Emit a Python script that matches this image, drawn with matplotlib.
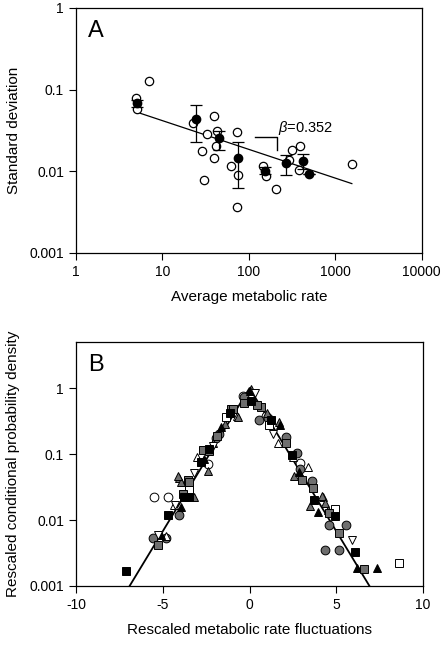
import numpy as np
import matplotlib
matplotlib.use("Agg")
import matplotlib.pyplot as plt

plt.rcParams['font.family'] = ['Liberation Sans', 'DejaVu Sans']
plt.rcParams['mathtext.fontset'] = 'custom'
plt.rcParams['mathtext.it'] = 'Liberation Sans:italic'
plt.rcParams['mathtext.rm'] = 'Liberation Sans'

# ---------------- Panel A data ----------------
open_x = [5.0, 5.1, 7.0, 22.3, 32.4, 39.4, 43, 41.5, 28.9, 39.4, 30.4, 72.1, 61.4, 75.3, 73.2,
          146, 156, 204, 317, 389, 382, 288, 1552]
open_y = [0.078, 0.058, 0.128, 0.039, 0.029, 0.048, 0.0316, 0.0204, 0.0175, 0.0145, 0.0078,
          0.0307, 0.0115, 0.0089, 0.0037, 0.0116, 0.0088, 0.0061, 0.0182, 0.0204, 0.0103, 0.0139, 0.0124]

mean_x = [5.1, 24.4, 45.4, 74, 152, 268, 425, 494]
mean_y = [0.068, 0.0443, 0.0255, 0.0147, 0.0101, 0.0126, 0.0134, 0.0092]
err_lo = [0.062, 0.0226, 0.0185, 0.0062, 0.0092, 0.0091, 0.0108, 0.0092]
err_hi = [0.075, 0.065, 0.0316, 0.0228, 0.0113, 0.0157, 0.0164, 0.0092]

fit_x = [5.1, 1552]
beta = 0.352
fit_a = 0.0939

A_xticks = [1, 10, 100, 1000, 10000]
A_xticklabels = ['1', '10', '100', '1000', '10000']
A_yticks = [0.001, 0.01, 0.1, 1]
A_yticklabels = ['0.001', '0.01', '0.1', '1']

# ---------------- Panel B data (x, log10 y) ----------------
oc = [(-5.48, -1.65), (-4.71, -1.65), (-2.40, -1.15), (2.88, -1.14), (-0.35, -0.12), (0.95, -0.42)]
gc = [(-5.58, -2.28), (-4.81, -2.28), (-4.04, -1.92), (-1.92, -0.76), (-1.77, -0.70), (-0.29, -0.13),
      (0.54, -0.48), (2.08, -0.74), (2.73, -0.99), (3.6, -1.41), (4.58, -2.08), (5.54, -2.07),
      (4.37, -2.46), (5.13, -2.46), (1.05, -0.45), (2.9, -1.22)]
ot = [(-4.81, -2.25), (-4.33, -1.77), (-3.04, -1.04), (1.63, -0.83), (3.37, -1.19), (4.23, -1.65),
      (-0.7, -0.42), (2.5, -1.05)]
gt = [(-4.04, -1.37), (-3.94, -1.42), (-4.1, -1.34), (-3.17, -1.65), (-2.37, -1.25), (-2.12, -0.84),
      (-0.67, -0.44), (0.1, -0.02), (1.7, -0.52), (2.56, -1.34), (4.19, -1.64), (3.5, -1.79),
      (4.33, -1.74), (4.52, -1.85), (-1.4, -0.55), (1.0, -0.38)]
bt = [(-5.1, -2.23), (-3.94, -1.80), (-1.63, -0.59), (1.73, -0.56), (2.85, -1.27), (3.94, -1.88),
      (6.21, -2.73), (7.37, -2.72), (-2.6, -1.08), (0.0, -0.05)]
dt = [(-5.29, -2.23), (-4.27, -1.77), (-3.17, -1.28), (0.29, -0.08), (1.35, -0.69), (5.9, -2.30),
      (-2.1, -0.88), (-3.6, -1.48)]
osq = [(-1.35, -0.44), (4.9, -1.84), (8.6, -2.65), (1.15, -0.56), (-3.5, -1.55)]
gs = [(-5.29, -2.38), (-3.85, -1.6), (-3.56, -1.39), (-3.46, -1.42), (-2.69, -0.94), (-2.31, -0.96),
      (-1.06, -0.31), (-0.96, -0.31), (-0.29, -0.23), (0.67, -0.28), (2.12, -0.84), (3.04, -1.39),
      (3.65, -1.52), (5.13, -2.19), (6.6, -2.75), (4.6, -1.9), (-1.9, -0.72), (0.45, -0.25)]
bs = [(-7.12, -2.78), (-4.67, -1.93), (-3.75, -1.65), (-3.46, -1.65), (-2.79, -1.12), (-2.31, -0.93),
      (-1.15, -0.38), (0.1, -0.19), (1.25, -0.48), (2.46, -1.02), (3.69, -1.70), (4.9, -1.94),
      (6.06, -2.48)]

B_xticks = [-10, -5, 0, 5, 10]
B_yticks = [0.001, 0.01, 0.1, 1]
B_yticklabels = ['0.001', '0.01', '0.1', '1']

GREY = '#6e6e6e'

fig = plt.figure(figsize=(4.44, 6.5), dpi=100)

def style(ax):
    ax.tick_params(direction='out', length=5, width=0.8, labelsize=10, top=False, right=False)
    ax.tick_params(which='minor', left=False, bottom=False, top=False, right=False)
    for s in ax.spines.values():
        s.set_linewidth(0.9)

# ---------------- Panel A ----------------
axA = fig.add_axes([0.171, 0.6108, 0.779, 0.3769])
axA.set_xscale('log')
axA.set_yscale('log')
axA.set_xlim(1, 10000)
axA.set_ylim(0.001, 1)

fx = np.array(fit_x)
axA.plot(fx, fit_a * fx ** (-beta), color='black', lw=0.9, zorder=2)

axA.plot(open_x, open_y, 'o', ms=6, mfc='white', mec='black', mew=0.9, zorder=3)
my = np.array(mean_y)
yerr = np.vstack([my - np.array(err_lo), np.array(err_hi) - my])
axA.errorbar(mean_x, mean_y, yerr=yerr, fmt='o', ms=6, mfc='black', mec='black',
             ecolor='black', elinewidth=0.9, capsize=4, capthick=0.9, zorder=4)

# slope indicator bracket
axA.plot([117, 212, 212], [0.0262, 0.0262, 0.0184], color='black', lw=1.0, zorder=2)
axA.text(218, 0.0335, r'$\it{\beta}$=0.352', fontsize=10.5, ha='left', va='center')

axA.set_xticks(A_xticks)
axA.set_xticklabels(A_xticklabels)
axA.set_yticks(A_yticks)
axA.set_yticklabels(A_yticklabels)
style(axA)
axA.set_xlabel('Average metabolic rate', fontsize=11, labelpad=8)
axA.set_ylabel('Standard deviation', fontsize=11)
axA.yaxis.set_label_coords(-0.16, 0.5)
axA.text(0.035, 0.95, 'A', transform=axA.transAxes, fontsize=17, ha='left', va='top')

# ---------------- Panel B ----------------
axB = fig.add_axes([0.171, 0.0985, 0.782, 0.3754])
axB.set_yscale('log')
axB.set_xlim(-10, 10)
axB.set_ylim(0.001, 5)

lx = np.linspace(-7.5, 7.5, 301)
axB.plot(lx, np.exp(-np.abs(lx)), color='black', lw=1.3, zorder=2)

def sc(pts, marker, fc, ms=6.3):
    xs = [p[0] for p in pts]
    ys = [10 ** p[1] for p in pts]
    axB.plot(xs, ys, marker, ms=ms, mfc=fc, mec='black', mew=0.7, ls='none', zorder=3)

sc(oc, 'o', 'white')
sc(gc, 'o', GREY)
sc(ot, '^', 'white')
sc(gt, '^', GREY)
sc(bt, '^', 'black')
sc(dt, 'v', 'white')
sc(osq, 's', 'white')
sc(gs, 's', GREY)
sc(bs, 's', 'black')

axB.set_xticks(B_xticks)
axB.set_xticklabels([str(t) for t in B_xticks])
axB.set_yticks(B_yticks)
axB.set_yticklabels(B_yticklabels)
style(axB)
axB.set_xlabel('Rescaled metabolic rate fluctuations', fontsize=11, labelpad=8)
axB.set_ylabel('Rescaled conditional probability density', fontsize=11)
axB.yaxis.set_label_coords(-0.16, 0.5)
axB.text(0.035, 0.95, 'B', transform=axB.transAxes, fontsize=17, ha='left', va='top')

fig.savefig('out.png', dpi=100)
